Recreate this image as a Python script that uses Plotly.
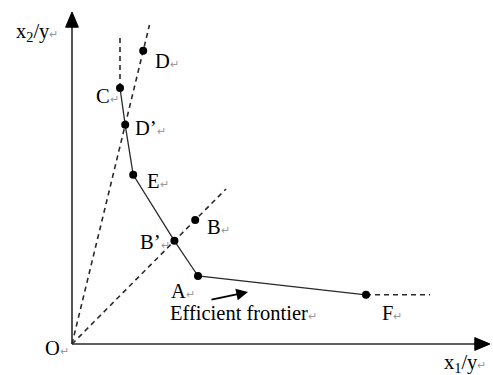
import plotly.graph_objects as go

# ---- data (units: x1/y on horizontal, x2/y on vertical) ----
names = ["C", "D’", "E", "B’", "A", "F", "D", "B"]
x_vals = [1.20, 1.33, 1.53, 2.56, 3.15, 7.35, 1.78, 3.08]
y_vals = [6.40, 5.48, 4.23, 2.58, 1.70, 1.23, 7.33, 3.10]
frontier = ["C", "D’", "E", "B’", "A", "F"]
# extension factors for dashed guide lines
ray_D_ext = 1.088      # O -> D ray, beyond D
ray_B_ext = 1.25       # O -> B ray, beyond B
c_up_ext = 1.195       # vertical dashed above C
f_right_ext = 1.218    # horizontal dashed right of F
x_axis_end = 10.45
y_axis_end = 8.30

pts = {n: (x, y) for n, x, y in zip(names, x_vals, y_vals)}

INK = "#2a2a2a"
RET = "<span style='color:#9a9a9a;font-size:11px'>↵</span>"
FONT = dict(family="Liberation Serif, Times New Roman, serif", size=20.5, color="black")

fig = go.Figure()

dx, dy = pts["D"]
bx, by = pts["B"]
cx, cy = pts["C"]
fx, fy = pts["F"]
dash = dict(color=INK, width=1.6, dash="5px,4px")
fig.add_trace(go.Scatter(x=[0, dx * ray_D_ext], y=[0, dy * ray_D_ext], mode="lines", line=dash, hoverinfo="skip"))
fig.add_trace(go.Scatter(x=[0, bx * ray_B_ext], y=[0, by * ray_B_ext], mode="lines", line=dash, hoverinfo="skip"))
fig.add_trace(go.Scatter(x=[cx, cx], y=[cy, cy * c_up_ext], mode="lines", line=dash, hoverinfo="skip"))
fig.add_trace(go.Scatter(x=[fx, fx * f_right_ext], y=[fy, fy], mode="lines", line=dash, hoverinfo="skip"))

# efficient frontier
fig.add_trace(go.Scatter(x=[pts[n][0] for n in frontier], y=[pts[n][1] for n in frontier],
                         mode="lines", line=dict(color=INK, width=1.3), hoverinfo="skip"))

# points
fig.add_trace(go.Scatter(x=x_vals, y=y_vals, mode="markers",
                         marker=dict(color="black", size=8), hoverinfo="skip"))

# axes (drawn)
axis_line = dict(color=INK, width=1.6)
fig.add_shape(type="line", x0=0, y0=0, x1=x_axis_end - 0.2, y1=0, line=axis_line)
fig.add_shape(type="line", x0=0, y0=0, x1=0, y1=y_axis_end - 0.2, line=axis_line)
fig.add_shape(type="path", path=f"M {x_axis_end} 0 L {x_axis_end-0.38} 0.16 L {x_axis_end-0.38} -0.16 Z",
              fillcolor="black", line=dict(color="black", width=1))
fig.add_shape(type="path", path=f"M 0 {y_axis_end} L -0.16 {y_axis_end-0.38} L 0.16 {y_axis_end-0.38} Z",
              fillcolor="black", line=dict(color="black", width=1))

# point labels: (anchor, xshift, yshift)
label_pos = {
    "D": ("left", 10, -10),
    "C": ("right", 1, -8),
    "D’": ("left", 8, -3),
    "E": ("left", 12, -6),
    "B": ("left", 10, -7),
    "B’": ("right", -2, -1),
    "A": ("right", -1, -15),
    "F": ("left", 14, -18),
}
for n, (anc, xs, ys) in label_pos.items():
    fig.add_annotation(x=pts[n][0], y=pts[n][1], text=n + RET, showarrow=False,
                       xanchor=anc, yanchor="middle", xshift=xs, yshift=ys, font=FONT)

fig.add_annotation(x=0, y=0, text="O" + RET, showarrow=False, xanchor="right", yanchor="middle",
                   xshift=-1, yshift=-4, font=FONT)

fig.add_annotation(x=0, y=y_axis_end, text="x<sub>2</sub>/y" + RET, showarrow=False,
                   xanchor="right", yanchor="middle", xshift=-12, yshift=-20, font=FONT)
fig.add_annotation(x=x_axis_end, y=0, text="x<sub>1</sub>/y" + RET, showarrow=False,
                   xanchor="right", yanchor="middle", xshift=-2, yshift=-19, font=FONT)

fig.add_annotation(x=4.40, y=1.30, ax=3.45, ay=1.10, axref="x", ayref="y", xref="x", yref="y",
                   text="", showarrow=True, arrowhead=2, arrowsize=1.3, arrowwidth=1.8, arrowcolor="black")
fig.add_annotation(x=2.40, y=0.765, text="Efficient frontier" + RET, showarrow=False,
                   xanchor="left", yanchor="middle", font=FONT)

fig.update_layout(
    width=493, height=375, margin=dict(l=0, r=0, t=0, b=0),
    paper_bgcolor="white", plot_bgcolor="white", showlegend=False,
    xaxis=dict(range=[-1.8, 10.525], visible=False, fixedrange=True),
    yaxis=dict(range=[-0.775, 8.6], visible=False, fixedrange=True),
)

fig.write_html("out.html", config={"displayModeBar": False},
               post_script="document.body.style.margin='0';document.body.style.overflow='hidden';")
